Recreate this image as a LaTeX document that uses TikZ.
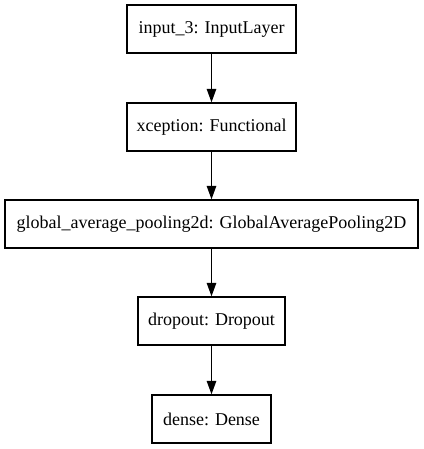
\documentclass[tikz,border=0pt]{standalone}
\usepackage{fontspec}
\setmainfont{Liberation Serif}
\usetikzlibrary{arrows.meta}
\begin{document}
\begin{tikzpicture}[x=1pt,y=1pt,
  layer/.style={draw=black, line width=1.33pt, minimum height=48pt, inner sep=0pt,
    font=\rmfamily\fontsize{18}{21}\selectfont, fill=white},
  flow/.style={line width=1.33pt, -{Triangle[length=13.5pt,width=9.5pt]}}]
  \fill[white] (0,0) rectangle (423,449);
  \useasboundingbox (0,0) rectangle (423,449);
  \node[layer, minimum width=169pt] (inp) at (211.5,420) {input\_3: InputLayer};
  \node[layer, minimum width=169pt] (xcp) at (211.5,322) {xception: Functional};
  \node[layer, minimum width=413pt] (gap) at (211.5,225) {global\_average\_pooling2d: GlobalAveragePooling2D};
  \node[layer, minimum width=147pt] (drp) at (211.5,128) {dropout: Dropout};
  \node[layer, minimum width=119pt] (dns) at (211.5,30) {dense: Dense};
  \draw[flow] (inp) -- (xcp);
  \draw[flow] (xcp) -- (gap);
  \draw[flow] (gap) -- (drp);
  \draw[flow] (drp) -- (dns);
\end{tikzpicture}
\end{document}
